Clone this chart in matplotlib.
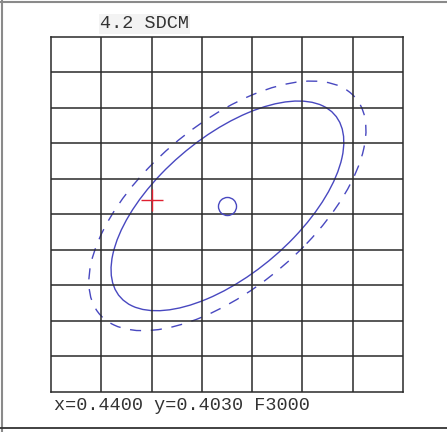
import numpy as np
import matplotlib.pyplot as plt
from matplotlib.lines import Line2D
from matplotlib.patches import Ellipse

# ellipse data (chromaticity)
name = "F3000"
cx, cy = 0.4400, 0.4030
steps_inner = 4.2
steps_outer = 5.0
a1, b1 = 0.00283, 0.00133   # one-step semi axes
theta = 56.0
point = [0.43472, 0.40359]  # measured point (red cross)

# grid
cell = 0.0035
x_lo, y_lo = 0.42772, 0.38465
n_cols, n_rows = 7, 10

W, H = 447, 432
fig = plt.figure(figsize=(W / 100, H / 100), dpi=100)
ax = fig.add_axes([51 / W, (H - 392) / H, 352 / W, 355 / H])

x_hi = x_lo + n_cols * cell
y_hi = y_lo + n_rows * cell
ax.set_xlim(x_lo, x_hi)
ax.set_ylim(y_lo, y_hi)
ax.set_xticks([])
ax.set_yticks([])
for s in ax.spines.values():
    s.set(color="#2a2a2a", linewidth=1.1)

for i in range(1, n_cols):
    ax.axvline(x_lo + i * cell, color="#2a2a2a", lw=1.1)
for j in range(1, n_rows):
    ax.axhline(y_lo + j * cell, color="#2a2a2a", lw=1.1)

blue = "#4848c0"
ax.add_patch(Ellipse((cx, cy), 2 * a1 * steps_inner, 2 * b1 * steps_inner, angle=theta,
                     fill=False, edgecolor=blue, lw=1.0))
ax.add_patch(Ellipse((cx, cy), 2 * a1 * steps_outer, 2 * b1 * steps_outer, angle=theta,
                     fill=False, edgecolor=blue, lw=1.0, linestyle=(0, (8, 7))))
ax.plot(cx, cy, "o", ms=13, mfc="none", mec=blue, mew=1.0)
ax.plot(point[0], point[1], "+", ms=16, color="#e02030", mew=1.0)

mono = ["Liberation Mono", "DejaVu Sans Mono"]
fig.text(100 / W, 1 - 24 / H, f"{steps_inner} SDCM", family=mono, fontsize=13.3,
         color="#333333", va="center", ha="left",
         bbox=dict(facecolor="#f3f3f3", edgecolor="none", pad=1))
fig.text(54 / W, 1 - 405 / H, f"x={cx:.4f} y={cy:.4f} {name}", family=mono,
         fontsize=13.3, color="#333333", va="center", ha="left")

# outer frame
fig.add_artist(Line2D([2 / W, 2 / W], [0, 1], transform=fig.transFigure,
                      color="#8a8a8a", lw=1.5))
fig.add_artist(Line2D([0, 1], [1 - 1.5 / H, 1 - 1.5 / H], transform=fig.transFigure,
                      color="#8a8a8a", lw=1.5))
fig.add_artist(Line2D([0, 1], [1 - 428 / H, 1 - 428 / H], transform=fig.transFigure,
                      color="#333333", lw=1.3))

fig.savefig("out.png", dpi=100, facecolor="white")
